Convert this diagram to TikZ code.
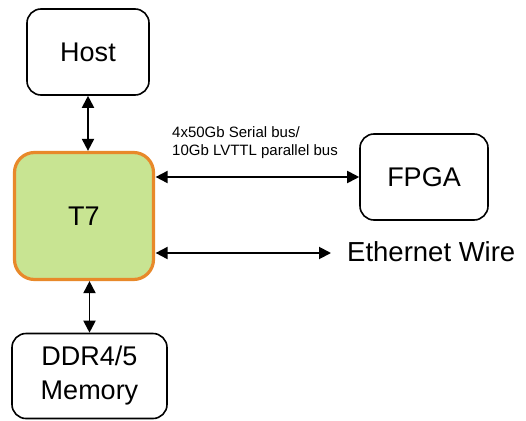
\documentclass[tikz,border=0pt]{standalone}
\usepackage{fontspec}
\setmainfont{Liberation Sans}
\usetikzlibrary{arrows.meta}
\definecolor{orng}{RGB}{232,137,42}
\definecolor{grn}{RGB}{200,228,146}
\tikzset{
  box/.style={draw=black, line width=1.6pt, rounded corners=14pt, fill=white, inner sep=0pt,
    font=\fontsize{27}{34}\selectfont, align=center},
  chip/.style={draw=orng, line width=3.2pt, rounded corners=20pt, fill=grn, inner sep=0pt,
    font=\fontsize{27}{34}\selectfont},
  arr/.style={line width=1.9pt, {Triangle[length=12pt,width=12pt]}-{Triangle[length=12pt,width=12pt]}},
  lbl/.style={font=\fontsize{15}{18.5}\selectfont, align=left, inner sep=0pt}
}
\begin{document}
\begin{tikzpicture}[x=1pt,y=-1pt]
\useasboundingbox (0,0) rectangle (526,420);
\node[box, minimum width=122pt, minimum height=86pt] (host) at (88,52) {Host};
\node[chip, minimum width=139pt, minimum height=127pt] (t7) at (84,216) {T7};
\node[box, minimum width=128pt, minimum height=86pt] (fpga) at (424,177) {FPGA};
\node[box, minimum width=155pt, minimum height=85pt] (ddr) at (89.5,376) {DDR4/5\\Memory};
\node[font=\fontsize{27.5}{32}\selectfont, anchor=west, inner sep=0pt] (eth) at (347,252) {Ethernet Wire};
\coordinate (ethend) at (331,253);
\node[lbl, anchor=north west] (bus) at (172,126) {4x50Gb Serial bus/\\10Gb LVTTL parallel bus};
\draw[arr] (host.south) -- (host.south |- t7.north);
\draw[arr] (ddr.north) -- (ddr.north |- t7.south);
\draw[arr] ([xshift=0.5pt]t7.east |- fpga.west) -- (fpga.west);
\draw[arr] ([xshift=0.5pt]t7.east |- ethend) -- (ethend);
\end{tikzpicture}
\end{document}
